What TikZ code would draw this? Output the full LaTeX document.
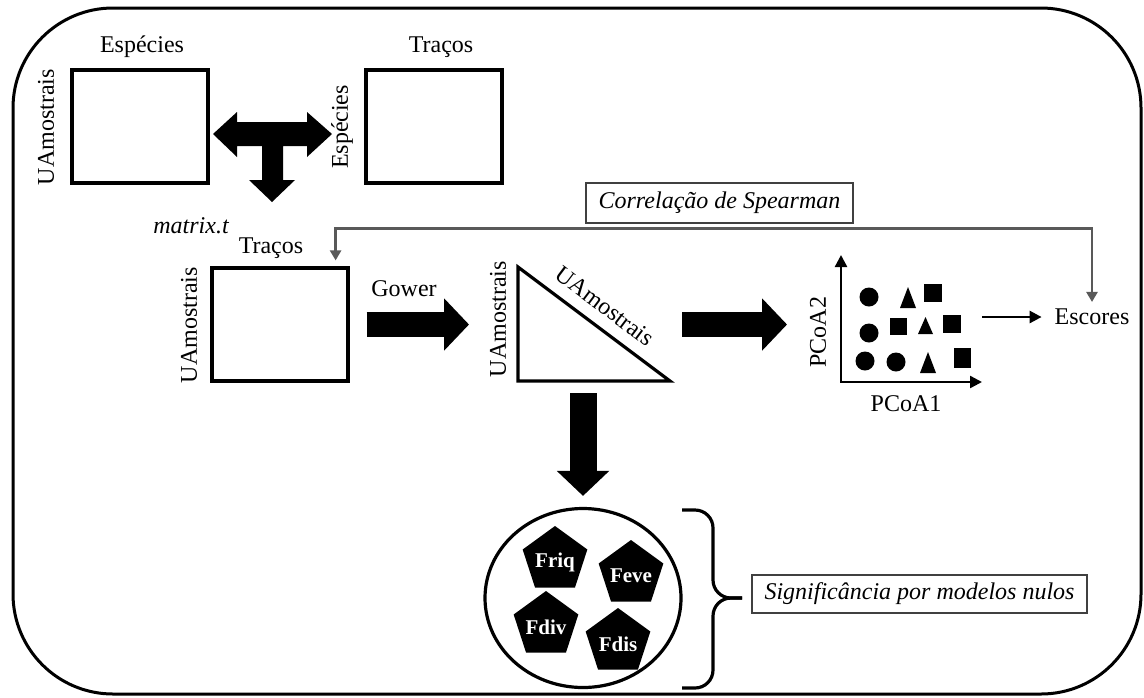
\documentclass[tikz,border=0pt]{standalone}
\usepackage{fontspec}
\setmainfont{Liberation Serif}
\usepackage{tikz}
\usetikzlibrary{arrows.meta,shapes,positioning}
\tikzset{
    matbox/.style={
    rectangle,draw=black,line width=1.6pt,minimum width=68pt,minimum height=56.5pt
    },
    lbl/.style={
    font=\fontsize{12pt}{14pt}\selectfont
    },
    ilbl/.style={
    font=\fontsize{12pt}{14pt}\selectfont\itshape
    },
    textbox/.style={
    rectangle,draw=black!75,line width=0.6pt,font=\fontsize{12pt}{14pt}\selectfont\itshape
    },
    bigarrow/.style={
    line width=12.5pt,-{Triangle[length=12.5pt,width=25.5pt]}
    },
    thinarrow/.style={
    line width=1.3pt,-{Triangle[length=6pt,width=6pt]}
    },
    axis/.style={
    line width=1.2pt,line join=miter,{Triangle[length=6pt,width=6pt]}-{Triangle[length=6pt,width=6pt]}
    },
    spear/.style={
    draw=black!65,line width=1.4pt,{Triangle[length=5pt,width=5.5pt]}-{Triangle[length=5pt,width=5.5pt]}
    },
    fset/.style={
    ellipse,draw=black,line width=1.6pt,minimum width=98pt,minimum height=89.5pt
    },
    fnode/.style={
    regular polygon,regular polygon sides=5,fill=black,minimum size=34pt,inner sep=0pt
    },
    ftext/.style={
    text=white,inner sep=0pt,yshift=-1pt,font=\fontsize{10.5pt}{12pt}\selectfont\bfseries
    },
    bracel/.style={
    line width=1.6pt,rounded corners=9pt
    },
}

\begin{document}
\begin{tikzpicture}[x=0.5pt,y=-0.5pt]
   \useasboundingbox (0,0) rectangle (1144,697);
   \draw[line width=1.5pt,rounded corners=50pt] (13,8) rectangle (1141,694);

   % species and traits tables
   \node[matbox] (comm) at (140,126.5) {};
   \node[matbox] (trait) at (434,126.5) {};
   \node[lbl] (commcol) at (142,47) {Espécies};
   \node[lbl,rotate=90] (commrow) at (46,127) {UAmostrais};
   \node[lbl] (traitcol) at (441,47) {Traços};
   \node[lbl,rotate=90] (traitrow) at (342,127) {Espécies};
   \fill (213,134) -- (237,112) -- (237,122) -- (307,122) -- (307,112) -- (332,134)
      -- (307,157) -- (307,146) -- (283,146) -- (283,180) -- (295,180) -- (272,202)
      -- (249,180) -- (262,180) -- (262,146) -- (237,146) -- (237,157) -- cycle;

   \node[ilbl] (mt) at (191,226) {matrix.t};
   \node[matbox] (traits) at (280,324.5) {};
   \node[lbl] (traitscol) at (271,248) {Traços};
   \node[lbl,rotate=90] (traitsrow) at (189,325) {UAmostrais};

   % distance matrix
   \coordinate (dA) at (518,267);
   \coordinate (dB) at (518,381);
   \coordinate (dC) at (670,381);
   \draw[line width=1.6pt,line join=miter] (dA) -- (dB) -- (dC) -- cycle;
   \node[lbl,rotate=90] (distrow) at (498,319) {UAmostrais};
   \node[lbl,rotate=-37] (distcol) at (605,306) {UAmostrais};
   \node[lbl] (gower) at (404,289) {Gower};
   \draw[bigarrow,shorten <=8.5pt,shorten >=24.5pt] (traits.east) -- (dB |- traits.east);

   % ordination
   \coordinate (orig) at (841,382);
   \coordinate (yend) at (841,255);
   \coordinate (xend) at (982,382);
   \draw[axis] (yend) -- (orig) -- (xend);
   \node[lbl,rotate=90] (pc2) at (818,332) {PCoA2};
   \node[lbl] (pc1) at (906,404) {PCoA1};
   \draw[bigarrow,shorten <=6pt,shorten >=27pt] (dC |- traits.east) -- (orig |- traits.east);

   \fill (869,297) circle (4.75pt);
   \fill (900,308) -- (916,308) -- (908,287) -- cycle;
   \fill (924,284) rectangle (942,302);
   \fill (869,333) circle (4.75pt);
   \fill (890,318) rectangle (907,335);
   \fill (918,334) -- (933,334) -- (925.5,317) -- cycle;
   \fill (943,315) rectangle (961,333);
   \fill (865,361) circle (4.75pt);
   \fill (896,362) circle (4.75pt);
   \fill (920,373) -- (936,373) -- (928,352) -- cycle;
   \fill (954,348) rectangle (971,368);

   \node[lbl] (escores) at (1092,317) {Escores};
   \draw[thinarrow,shorten >=3pt] (xend |- escores.west) -- (escores.west);

   \node[textbox,minimum width=133.5pt,minimum height=20pt] (spearbox) at (719.5,203) {Correlação de Spearman};
   \draw[spear] (escores.north) |- ([yshift=-2.5pt]spearbox.south) -| ([xshift=-7pt,yshift=3pt]traits.north east);

   % functional indices
   \node[fset] (fset) at (583,598) {};
   \draw[bigarrow,line width=13.5pt,shorten <=6pt,shorten >=5.5pt] (fset.north |- dC) -- (fset.north);
   \node[fnode,label={[ftext]center:Friq}] (friq) at (555,560) {};
   \node[fnode,label={[ftext]center:Feve}] (feve) at (631,574) {};
   \node[fnode,label={[ftext]center:Fdiv}] (fdiv) at (546,625) {};
   \node[fnode,label={[ftext]center:Fdis}] (fdis) at (618,642) {};

   \draw[bracel] (682,510) -| (713,598) -- (742,598);
   \draw[bracel] (682,688) -| (713,598) -- (742,598);
   \node[textbox,minimum width=167.5pt,minimum height=19pt] (nullbox) at (919.5,594) {Significância por modelos nulos};
\end{tikzpicture}
\end{document}
